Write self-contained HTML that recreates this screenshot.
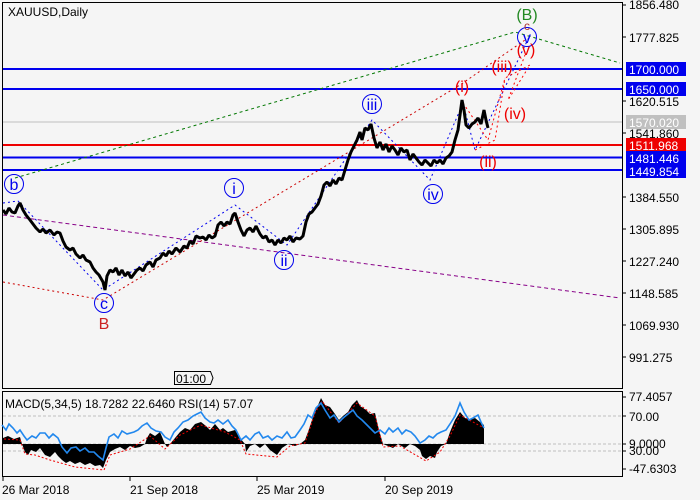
<!DOCTYPE html><html><head><meta charset="utf-8"><style>
body{margin:0;background:#fff;}
svg{display:block;font-family:"Liberation Sans",sans-serif;}
</style></head><body>
<svg width="700" height="500" viewBox="0 0 700 500" xmlns="http://www.w3.org/2000/svg">
<rect width="700" height="500" fill="#f5f5f5"/>
<rect x="2.5" y="2.5" width="620" height="386" fill="none" stroke="#000"/>
<rect x="2.5" y="391.5" width="620" height="85" fill="none" stroke="#000"/>
<text x="8" y="16" font-size="12">XAUUSD,Daily</text>
<line x1="3" y1="122" x2="622" y2="122" stroke="#c0c0c0"/>
<line x1="3" y1="69" x2="622" y2="69" stroke="#0000ee" stroke-width="2"/>
<line x1="3" y1="89" x2="622" y2="89" stroke="#0000ee" stroke-width="2"/>
<line x1="3" y1="145" x2="622" y2="145" stroke="#ee0000" stroke-width="2"/>
<line x1="3" y1="157.5" x2="622" y2="157.5" stroke="#0000ee" stroke-width="2"/>
<line x1="3" y1="170" x2="622" y2="170" stroke="#0000ee" stroke-width="2"/>
<polyline points="15,178 515,32 620,63" fill="none" stroke="#007700" stroke-dasharray="3,3"/>
<line x1="3" y1="215" x2="620" y2="298" stroke="#880088" stroke-dasharray="4,3"/>
<polyline points="3,282 103,300 460,85 525,40" fill="none" stroke="#cc0000" stroke-dasharray="2,3"/>
<polyline points="3,203 18,201 103,290 235,205 287,245 372,120 430,180 463,103 475,150 530,35" fill="none" stroke="#0000ee" stroke-dasharray="2,3"/>
<polyline points="463,103 488,140 505,78 530,65 508,100 525,55" fill="none" stroke="#ff0000" stroke-dasharray="2,3"/>
<polyline points="475,150 495,140 505,78" fill="none" stroke="#ff0000" stroke-dasharray="2,3"/>
<polyline fill="none" stroke="#000" stroke-width="3" stroke-linejoin="bevel" points="3,210 6,214 9,208 12,212 15,213 18,206 20,203 23,210 26,215 30,220 33,224 36,228 40,232 43,229 46,233 50,230 54,235 57,232 60,233 63,241 66,247 70,250 73,248 76,254 80,258 83,255 86,260 90,262 93,268 96,272 99,275 103,282 105,290 107,276 110,270 113,272 116,268 119,275 122,270 125,276 128,272 131,278 134,274 137,270 140,268 143,271 146,265 150,262 153,267 156,260 160,258 163,253 166,256 169,251 172,254 176,248 180,252 184,246 187,248 190,241 193,244 196,236 200,238 203,237 206,240 209,235 212,238 215,236 218,225 221,222 224,226 227,222 230,224 233,215 235,213 238,222 241,230 244,236 247,230 250,228 253,232 256,226 260,234 263,238 266,236 269,242 272,240 275,245 278,240 281,243 284,238 287,240 290,236 293,242 296,238 300,239 303,236 306,222 309,214 312,212 315,208 318,204 321,196 324,185 327,182 330,186 333,180 336,184 339,178 342,180 345,170 348,160 351,152 354,146 357,140 360,132 362,140 365,128 368,130 371,124 374,138 377,148 380,142 383,150 386,144 389,152 392,146 395,150 398,155 401,148 404,152 407,150 410,160 413,154 416,158 419,162 422,165 425,160 428,163 431,166 434,160 437,163 440,160 443,164 446,158 449,156 452,152 455,140 458,130 460,115 462,100 464,110 466,125 469,128 472,124 475,122 478,118 481,124 484,110 486,120 488,128"/>
<g font-size="16" fill="#0000ee" text-anchor="middle">
<circle cx="14" cy="184" r="9.5" fill="none" stroke="#0000ee"/><text x="14" y="190">b</text>
<circle cx="104" cy="303" r="9.5" fill="none" stroke="#0000ee"/><text x="104" y="309">c</text>
<circle cx="234" cy="188" r="9.5" fill="none" stroke="#0000ee"/><text x="234" y="194">i</text>
<circle cx="284" cy="260" r="9.5" fill="none" stroke="#0000ee"/><text x="284" y="266">ii</text>
<circle cx="372" cy="104" r="9.5" fill="none" stroke="#0000ee"/><text x="372" y="110">iii</text>
<circle cx="433" cy="194" r="9.5" fill="none" stroke="#0000ee"/><text x="433" y="200">iv</text>
<circle cx="527" cy="37" r="9.5" fill="none" stroke="#0000ee"/><text x="527" y="43">v</text>
</g>
<g font-size="16" fill="#ee0000" text-anchor="middle">
<text x="104" y="329" fill="#cc2222">B</text>
<text x="462" y="92">(i)</text>
<text x="488" y="167">(ii)</text>
<text x="502" y="72">(iii)</text>
<text x="515" y="119">(iv)</text>
<text x="526" y="55">(v)</text>
<text x="527" y="30" font-size="12" fill="#aa3333">c</text>
<text x="527" y="20" fill="#228822">(B)</text>
</g>
<g font-size="12" fill="#000">
<line x1="622" y1="5" x2="626" y2="5" stroke="#000"/><text x="629" y="9">1856.480</text>
<line x1="622" y1="37" x2="626" y2="37" stroke="#000"/><text x="629" y="42">1777.825</text>
<line x1="622" y1="101" x2="626" y2="101" stroke="#000"/><text x="629" y="106">1620.515</text>
<line x1="622" y1="133" x2="626" y2="133" stroke="#000"/><text x="629" y="138">1541.860</text>
<line x1="622" y1="197" x2="626" y2="197" stroke="#000"/><text x="629" y="202">1384.550</text>
<line x1="622" y1="229" x2="626" y2="229" stroke="#000"/><text x="629" y="234">1305.895</text>
<line x1="622" y1="261" x2="626" y2="261" stroke="#000"/><text x="629" y="266">1227.240</text>
<line x1="622" y1="293" x2="626" y2="293" stroke="#000"/><text x="629" y="298">1148.585</text>
<line x1="622" y1="325" x2="626" y2="325" stroke="#000"/><text x="629" y="330">1069.930</text>
<line x1="622" y1="357" x2="626" y2="357" stroke="#000"/><text x="629" y="362">991.275</text>
</g>
<rect x="626" y="62" width="60" height="14" fill="#0000ee"/><text x="629" y="74" font-size="12" fill="#fff">1700.000</text>
<rect x="626" y="82" width="60" height="14" fill="#0000ee"/><text x="629" y="94" font-size="12" fill="#fff">1650.000</text>
<rect x="626" y="115" width="60" height="14" fill="#c0c0c0"/><text x="629" y="127" font-size="12" fill="#fff">1570.020</text>
<rect x="626" y="138" width="60" height="14" fill="#ee0000"/><text x="629" y="150" font-size="12" fill="#fff">1511.968</text>
<rect x="626" y="151" width="60" height="14" fill="#0000ee"/><text x="629" y="163" font-size="12" fill="#fff">1481.446</text>
<rect x="626" y="164" width="60" height="14" fill="#0000ee"/><text x="629" y="176" font-size="12" fill="#fff">1449.854</text>
<path d="M174.5,371.5 H210.5 L213,378 L210.5,384.5 H174.5 Z" fill="#f5f5f5" stroke="#000"/>
<text x="176" y="383" font-size="12">01:00</text>
<line x1="3" y1="416" x2="622" y2="416" stroke="#c0c0c0" stroke-dasharray="3,2"/>
<line x1="3" y1="444" x2="622" y2="444" stroke="#c0c0c0" stroke-dasharray="3,2"/>
<line x1="3" y1="451" x2="622" y2="451" stroke="#c0c0c0" stroke-dasharray="3,2"/>
<polygon fill="#000" points="3,444 3,438 8,436 14,439 20,437 22,444 25,452 28,455 31,450 36,452 40,448 45,455 50,457 55,452 58,456 62,460 66,463 70,461 75,464 80,462 85,465 90,463 95,466 100,465 103,468 106,460 110,452 115,449 120,447 125,450 130,446 135,448 140,447 145,444 147,438 150,433 155,436 160,432 165,444 167,447 170,444 175,438 180,432 185,428 190,430 195,424 201,422 206,426 210,430 215,424 220,430 223,428 228,432 235,430 240,438 245,444 246,452 250,446 255,444 260,448 265,444 270,450 277,455 282,448 288,444 295,446 300,444 305,440 308,432 312,420 316,410 321,398 325,405 330,407 335,414 339,420 343,416 348,412 352,405 357,400 360,406 366,410 370,414 375,413 379,430 383,444 388,446 393,448 398,444 405,448 410,444 415,446 420,450 422,456 426,459 430,456 435,458 437,452 441,446 446,444 450,432 455,420 460,412 465,418 470,420 475,418 480,422 484,425 484,444"/>
<polyline fill="none" stroke="#ee0000" stroke-width="1" stroke-dasharray="2,2" points="4,439 20,440 25,454 35,455 50,460 75,467 104,470 110,455 130,449 150,436 165,449 180,435 201,425 225,432 240,440 246,454 277,457 290,446 305,443 315,413 322,401 339,423 357,403 375,416 383,447 400,446 426,461 440,452 450,436 460,415 484,428"/>
<polyline fill="none" stroke="#2288ee" stroke-width="1.6" points="2,425 6,430 9,424 13,428 17,433 20,430 24,436 27,440 32,436 36,438 40,433 45,433 49,438 53,434 58,438 62,447 67,453 71,448 76,447 80,451 85,448 89,452 94,452 98,456 103,460 106,448 109,437 114,434 118,438 122,431 127,434 134,432 138,430 142,426 147,423 151,428 156,431 161,432 165,437 170,440 174,432 178,428 183,422 188,420 193,416 197,414 201,412 205,418 210,422 214,423 218,420 223,424 228,420 232,426 236,430 241,440 246,436 250,440 255,434 259,432 263,438 268,436 272,440 277,436 282,438 287,432 291,438 295,437 300,430 304,424 308,415 312,418 316,408 321,403 325,410 330,418 334,415 339,422 343,418 348,414 353,410 357,416 362,420 366,424 370,428 375,433 380,430 385,434 389,428 393,432 398,428 402,434 406,430 411,432 415,436 420,443 425,440 429,436 433,438 437,434 441,432 446,430 450,424 455,416 460,403 464,412 469,420 473,418 478,415 481,422 484,428"/>
<text x="5" y="408" font-size="12">MACD(5,34,5) 18.7282 22.6460 RSI(14) 57.07</text>
<g font-size="12">
<line x1="622" y1="397" x2="626" y2="397" stroke="#000"/><text x="629" y="401">77.4057</text>
<line x1="622" y1="416" x2="626" y2="416" stroke="#000"/><text x="629" y="421">70.00</text>
<line x1="622" y1="444" x2="626" y2="444" stroke="#000"/><text x="629" y="448">9.0000</text>
<line x1="622" y1="451" x2="626" y2="451" stroke="#000"/><text x="629" y="455">30.00</text>
<line x1="622" y1="469" x2="626" y2="469" stroke="#000"/><text x="629" y="473">-47.6303</text>
<line x1="3" y1="477" x2="3" y2="481" stroke="#000"/><text x="2" y="494">26 Mar 2018</text>
<line x1="130" y1="477" x2="130" y2="481" stroke="#000"/><text x="130" y="494">21 Sep 2018</text>
<line x1="257" y1="477" x2="257" y2="481" stroke="#000"/><text x="257" y="494">25 Mar 2019</text>
<line x1="385" y1="477" x2="385" y2="481" stroke="#000"/><text x="385" y="494">20 Sep 2019</text>
</g>
</svg>
</body></html>
